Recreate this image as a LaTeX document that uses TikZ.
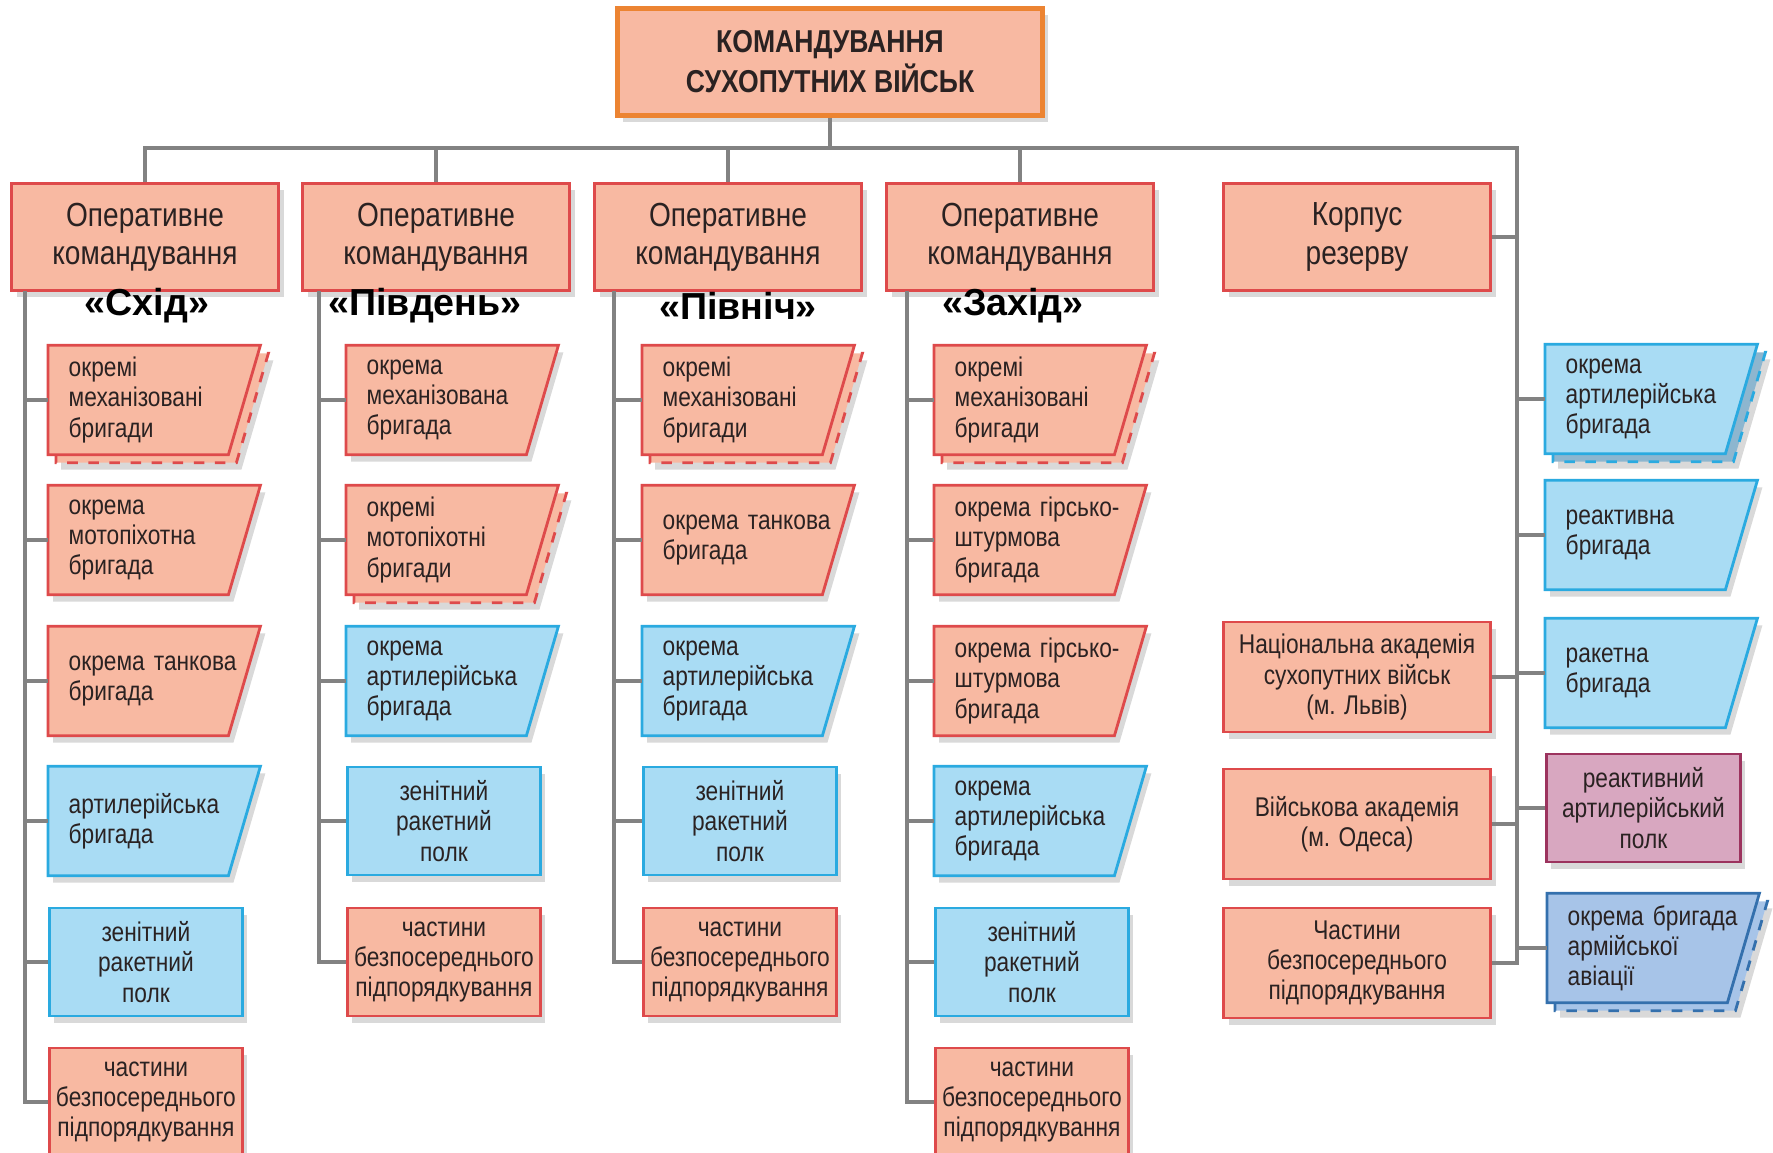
\documentclass[tikz,border=0pt]{standalone}
\usepackage{fontspec}
\setmainfont{Liberation Sans}[FakeStretch=0.84]
\newfontfamily\tagfont{Liberation Sans}
\usetikzlibrary{positioning,shadows,backgrounds}

\definecolor{salmon}{HTML}{F8B9A2}
\definecolor{redline}{HTML}{DE4A4B}
\definecolor{orangeline}{HTML}{EC8432}
\definecolor{skyfill}{HTML}{A9DCF4}
\definecolor{skyline}{HTML}{2AAAE0}
\definecolor{skyback}{HTML}{8DB6CF}
\definecolor{navyfill}{HTML}{A7C4E8}
\definecolor{navyline}{HTML}{3470AD}
\definecolor{mauvefill}{HTML}{D8A7C0}
\definecolor{mauveline}{HTML}{9C335E}
\definecolor{linkgray}{HTML}{828282}
\definecolor{ink}{HTML}{2A2222}

% parallelogram behind a unit node, and its dashed copy
\newcommand\paral[2]{%
  \path[#2, line width=0.8pt] (#1.north west) -- (#1.north east)
    -- ([xshift=-0.32cm]#1.south east) -- (#1.south west) -- cycle;}
\newcommand\paralback[2]{%
  \path[#2, line width=0.8pt, dashed] ([shift={(0.08,-0.08)}]#1.north west)
    -- ([shift={(0.08,-0.08)}]#1.north east)
    -- ([shift={(-0.24,-0.08)}]#1.south east)
    -- ([shift={(0.08,-0.08)}]#1.south west) -- cycle;}

\tikzset{
  link/.style={draw=linkgray, line width=1.2pt},
  shade/.style={drop shadow={shadow xshift=0.05cm, shadow yshift=-0.07cm, opacity=0.3}},
  salmonbox/.style={fill=salmon, draw=redline},
  skybox/.style={fill=skyfill, draw=skyline},
  navybox/.style={fill=navyfill, draw=navyline},
  cmdbox/.style={draw=orangeline, line width=1.4pt, fill=salmon, shade,
    minimum width=4.25cm, minimum height=1.07cm, align=center, text=ink,
    font=\bfseries\fontsize{9}{11.4}\selectfont},
  opbox/.style={salmonbox, line width=0.8pt, shade, minimum width=2.67cm,
    minimum height=1.07cm, align=center, text=ink,
    font=\fontsize{9.5}{10.9}\selectfont},
  tag/.style={font=\tagfont\bfseries\fontsize{10.7}{12}\selectfont},
  unit/.style={minimum height=1.08cm, anchor=west, text=ink,
    font=\fontsize{7.7}{8.6}\selectfont},
  rectunit/.style={unit, draw, line width=0.8pt, shade, inner sep=0pt,
    minimum width=1.93cm, align=center},
  paraunit/.style={unit, inner xsep=0.2cm, inner ysep=0pt,
    text width=1.71cm, align=left},
  corpsunit/.style={rectunit, anchor=center, salmonbox, minimum width=2.67cm,
    minimum height=1.10cm}
}

\begin{document}
\begin{tikzpicture}
  \useasboundingbox (0,0) rectangle (17.73,-11.53);

  \node[cmdbox] (cmd) at (8.30,-0.62) {КОМАНДУВАННЯ\\СУХОПУТНИХ ВІЙСЬК};

  \node[opbox] (op1) at (1.45,-2.37) {Оперативне\\командування};
  \node[opbox] (op2) at (4.36,-2.37) {Оперативне\\командування};
  \node[opbox] (op3) at (7.28,-2.37) {Оперативне\\командування};
  \node[opbox] (op4) at (10.20,-2.37) {Оперативне\\командування};
  \node[opbox] (rsv) at (13.57,-2.37) {Корпус\\резерву};

  \node[tag] (tg1) at (1.47,-3.06) {«Схід»};
  \node[tag] (tg2) at (4.25,-3.06) {«Південь»};
  \node[tag] (tg3) at (7.38,-3.06) {«Північ»};
  \node[tag] (tg4) at (10.13,-3.06) {«Захід»};

  % column 1
  \node[paraunit] (a1) at (0.48,-4.00) {окремі\\механізовані\\бригади};
  \node[paraunit] (a2) at (0.48,-5.40) {окрема\\мотопіхотна\\бригада};
  \node[paraunit] (a3) at (0.48,-6.81) {окрема танкова\\бригада};
  \node[paraunit] (a4) at (0.48,-8.21) {артилерійська\\бригада};
  \node[rectunit, skybox] (a5) at (0.48,-9.62) {зенітний\\ракетний\\полк};
  \node[rectunit, salmonbox] (a6) at (0.48,-11.02) {частини\\безпосереднього\\підпорядкування};

  % column 2
  \node[paraunit] (b1) at (3.46,-4.00) {окрема\\механізована\\бригада};
  \node[paraunit] (b2) at (3.46,-5.40) {окремі\\мотопіхотні\\бригади};
  \node[paraunit] (b3) at (3.46,-6.81) {окрема\\артилерійська\\бригада};
  \node[rectunit, skybox] (b4) at (3.46,-8.21) {зенітний\\ракетний\\полк};
  \node[rectunit, salmonbox] (b5) at (3.46,-9.62) {частини\\безпосереднього\\підпорядкування};

  % column 3
  \node[paraunit] (c1) at (6.42,-4.00) {окремі\\механізовані\\бригади};
  \node[paraunit] (c2) at (6.42,-5.40) {окрема танкова\\бригада};
  \node[paraunit] (c3) at (6.42,-6.81) {окрема\\артилерійська\\бригада};
  \node[rectunit, skybox] (c4) at (6.42,-8.21) {зенітний\\ракетний\\полк};
  \node[rectunit, salmonbox] (c5) at (6.42,-9.62) {частини\\безпосереднього\\підпорядкування};

  % column 4
  \node[paraunit] (d1) at (9.34,-4.00) {окремі\\механізовані\\бригади};
  \node[paraunit] (d2) at (9.34,-5.40) {окрема гірсько-\\штурмова\\бригада};
  \node[paraunit] (d3) at (9.34,-6.81) {окрема гірсько-\\штурмова\\бригада};
  \node[paraunit] (d4) at (9.34,-8.21) {окрема\\артилерійська\\бригада};
  \node[rectunit, skybox] (d5) at (9.34,-9.62) {зенітний\\ракетний\\полк};
  \node[rectunit, salmonbox] (d6) at (9.34,-11.02) {частини\\безпосереднього\\підпорядкування};

  % reserve corps
  \node[corpsunit] (k1) at (13.57,-6.77) {Національна академія\\сухопутних військ\\(м. Львів)};
  \node[corpsunit] (k2) at (13.57,-8.24) {Військова академія\\(м. Одеса)};
  \node[corpsunit] (k3) at (13.57,-9.63) {Частини\\безпосереднього\\підпорядкування};

  \node[paraunit] (r1) at (15.45,-3.99) {окрема\\артилерійська\\бригада};
  \node[paraunit] (r2) at (15.45,-5.35) {реактивна\\бригада};
  \node[paraunit] (r3) at (15.45,-6.73) {ракетна\\бригада};
  \node[rectunit, fill=mauvefill, draw=mauveline, minimum width=1.94cm] (r4) at (15.45,-8.08) {реактивний\\артилерійський\\полк};
  \node[paraunit] (r5) at (15.47,-9.48) {окрема бригада\\армійської\\авіації};

  \begin{scope}[on background layer]
    \foreach \nm in {a1,b2,c1,d1} {\paralback{\nm}{salmonbox, shade}}
    \paralback{r1}{fill=skyback, draw=skyline, shade}
    \paralback{r5}{navybox, shade}
    \foreach \nm in {a2,a3,b1,c2,d2,d3} {\paral{\nm}{salmonbox, shade}}
    \foreach \nm in {a1,b2,c1,d1} {\paral{\nm}{salmonbox}}
    \foreach \nm in {a4,b3,c3,d4,r2,r3} {\paral{\nm}{skybox, shade}}
    \paral{r1}{skybox}
    \paral{r5}{navybox}
  \end{scope}

  % bus
  \coordinate (hub) at (8.30,-1.48);
  \coordinate (busR) at (15.17,-1.48);
  \draw[link] (cmd.south) -- (hub);
  \draw[link] (op1.north) |- (busR) |- (k3.east);
  \foreach \o in {op2,op3,op4} {\draw[link] (\o.north) -- (\o.north |- hub);}
  \foreach \o in {rsv,k1,k2} {\draw[link] (\o.east) -- (\o.east -| busR);}
  \foreach \o in {r1,r2,r3,r4,r5} {\draw[link] (\o.west) -- (\o.west -| busR);}

  % column spines
  \coordinate (s1) at (0.25,-2.91);
  \coordinate (s2) at (3.19,-2.91);
  \coordinate (s3) at (6.14,-2.91);
  \coordinate (s4) at (9.07,-2.91);
  \draw[link] (s1) |- (a6.west);
  \draw[link] (s2) |- (b5.west);
  \draw[link] (s3) |- (c5.west);
  \draw[link] (s4) |- (d6.west);
  \foreach \o in {a1,a2,a3,a4,a5} {\draw[link] (\o.west) -- (\o.west -| s1);}
  \foreach \o in {b1,b2,b3,b4} {\draw[link] (\o.west) -- (\o.west -| s2);}
  \foreach \o in {c1,c2,c3,c4} {\draw[link] (\o.west) -- (\o.west -| s3);}
  \foreach \o in {d1,d2,d3,d4,d5} {\draw[link] (\o.west) -- (\o.west -| s4);}
\end{tikzpicture}
\end{document}
